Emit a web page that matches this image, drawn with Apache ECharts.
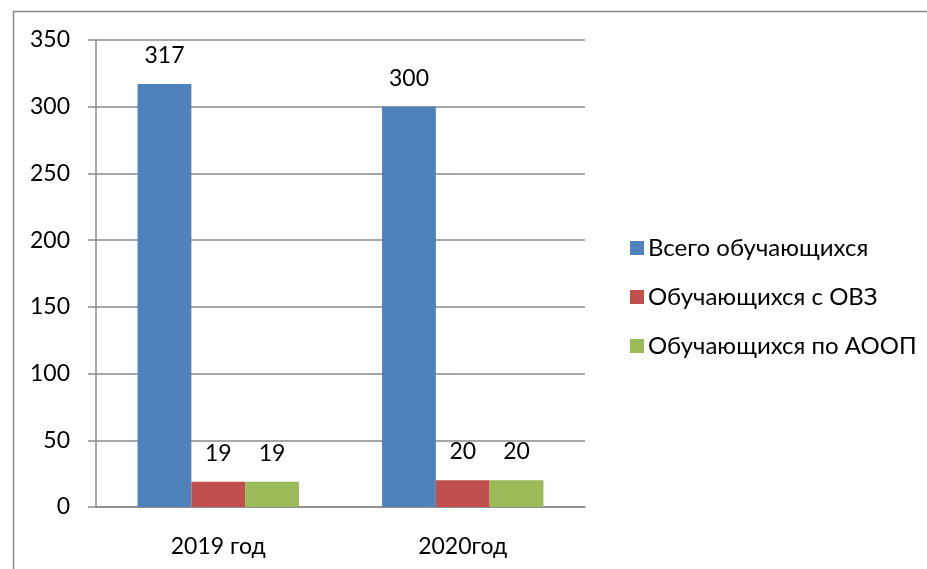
<!DOCTYPE html>
<html><head><meta charset="utf-8">
<script src="https://cdn.jsdelivr.net/npm/echarts@6/dist/echarts.min.js"></script>
<style>html,body{margin:0;padding:0;background:#fff}#c{width:927px;height:569px}</style>
</head><body><div id="c"></div>
<script>
const categories = ['2019 год', '2020год'];
const seriesNames = ['Всего обучающихся', 'Обучающихся с ОВЗ', 'Обучающихся по АООП'];
const totalStudents = [317, 300];
const ovzStudents = [19, 20];
const aoopStudents = [19, 20];
const colors = ['#4f81bd', '#c0504d', '#9bbb59'];
const FONT = 'Lato, "Open Sans", sans-serif';
const FS = 23;

const chart = echarts.init(document.getElementById('c'));
const values = [totalStudents, ovzStudents, aoopStudents];
chart.setOption({
  animation: false,
  textStyle: {fontFamily: FONT},
  graphic: [{type: 'rect', shape: {x: 13.5, y: 11.5, width: 940, height: 600},
    style: {fill: 'none', stroke: '#8a8a8a', lineWidth: 1.5}, silent: true}],
  grid: {left: 96, right: 342, top: 40, bottom: 62},
  legend: {
    orient: 'vertical', left: 625, top: 231,
    itemWidth: 14, itemHeight: 14, itemGap: 25, icon: 'rect',
    textStyle: {fontSize: 24, color: '#000', fontFamily: FONT, padding: [0, 0, 0, -1]},
    data: seriesNames
  },
  xAxis: {
    type: 'category', data: categories,
    axisLine: {lineStyle: {color: '#8a8a8a', width: 1.5}},
    axisTick: {length: 7, lineStyle: {color: '#8a8a8a', width: 1.5}},
    axisLabel: {fontSize: FS, color: '#000', margin: 28}
  },
  yAxis: {
    type: 'value', min: 0, max: 350, interval: 50,
    axisLine: {show: true, lineStyle: {color: '#8a8a8a', width: 1.5}},
    axisTick: {show: true, length: 8, lineStyle: {color: '#8a8a8a', width: 1.5}},
    splitLine: {lineStyle: {color: '#8a8a8a', width: 1.5}},
    axisLabel: {fontSize: FS, color: '#000', margin: 26}
  },
  series: seriesNames.map((n, i) => ({
    name: n, type: 'bar', data: values[i],
    barGap: '0%', barCategoryGap: '34%',
    itemStyle: {color: colors[i]},
    label: {show: true, position: 'top', distance: 17, fontSize: FS, color: '#000', fontFamily: FONT}
  }))
});
</script></body></html>
